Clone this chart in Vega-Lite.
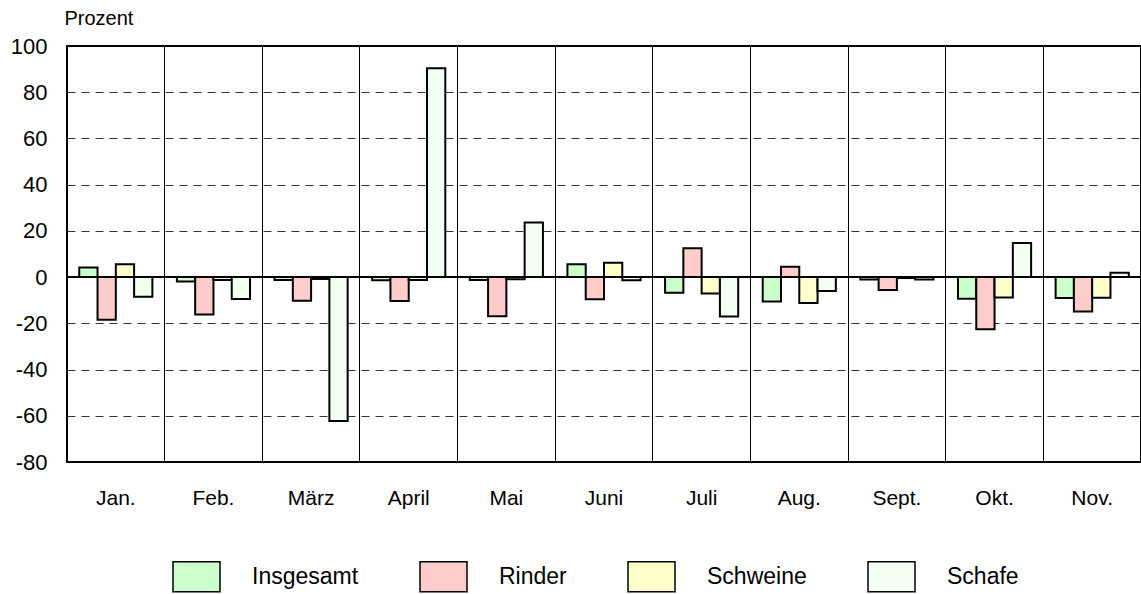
{
  "$schema": "https://vega.github.io/schema/vega-lite/v6.json",
  "width": 1074,
  "height": 416,
  "autosize": {"type": "none"},
  "padding": {"left": 67, "top": 46, "right": 0, "bottom": 132},
  "background": "white",
  "config": {
    "font": "Liberation Sans",
    "view": {"stroke": "black", "strokeWidth": 2}
  },
  "data": {
    "values": [
      {"monat": "Jan.", "art": "Insgesamt", "wert": 4.2},
      {"monat": "Jan.", "art": "Rinder", "wert": -18.4},
      {"monat": "Jan.", "art": "Schweine", "wert": 5.6},
      {"monat": "Jan.", "art": "Schafe", "wert": -8.5},
      {"monat": "Feb.", "art": "Insgesamt", "wert": -1.9},
      {"monat": "Feb.", "art": "Rinder", "wert": -16.2},
      {"monat": "Feb.", "art": "Schweine", "wert": -1.2},
      {"monat": "Feb.", "art": "Schafe", "wert": -9.5},
      {"monat": "März", "art": "Insgesamt", "wert": -1.3},
      {"monat": "März", "art": "Rinder", "wert": -10.2},
      {"monat": "März", "art": "Schweine", "wert": -0.8},
      {"monat": "März", "art": "Schafe", "wert": -62.3},
      {"monat": "April", "art": "Insgesamt", "wert": -1.4},
      {"monat": "April", "art": "Rinder", "wert": -10.3},
      {"monat": "April", "art": "Schweine", "wert": -1.3},
      {"monat": "April", "art": "Schafe", "wert": 90.4},
      {"monat": "Mai", "art": "Insgesamt", "wert": -1.3},
      {"monat": "Mai", "art": "Rinder", "wert": -16.9},
      {"monat": "Mai", "art": "Schweine", "wert": -0.9},
      {"monat": "Mai", "art": "Schafe", "wert": 23.6},
      {"monat": "Juni", "art": "Insgesamt", "wert": 5.6},
      {"monat": "Juni", "art": "Rinder", "wert": -9.6},
      {"monat": "Juni", "art": "Schweine", "wert": 6.2},
      {"monat": "Juni", "art": "Schafe", "wert": -1.4},
      {"monat": "Juli", "art": "Insgesamt", "wert": -6.8},
      {"monat": "Juli", "art": "Rinder", "wert": 12.5},
      {"monat": "Juli", "art": "Schweine", "wert": -7.1},
      {"monat": "Juli", "art": "Schafe", "wert": -17.0},
      {"monat": "Aug.", "art": "Insgesamt", "wert": -10.5},
      {"monat": "Aug.", "art": "Rinder", "wert": 4.5},
      {"monat": "Aug.", "art": "Schweine", "wert": -11.2},
      {"monat": "Aug.", "art": "Schafe", "wert": -6.0},
      {"monat": "Sept.", "art": "Insgesamt", "wert": -1.0},
      {"monat": "Sept.", "art": "Rinder", "wert": -5.6},
      {"monat": "Sept.", "art": "Schweine", "wert": -0.4},
      {"monat": "Sept.", "art": "Schafe", "wert": -1.0},
      {"monat": "Okt.", "art": "Insgesamt", "wert": -9.4},
      {"monat": "Okt.", "art": "Rinder", "wert": -22.6},
      {"monat": "Okt.", "art": "Schweine", "wert": -8.8},
      {"monat": "Okt.", "art": "Schafe", "wert": 14.8},
      {"monat": "Nov.", "art": "Insgesamt", "wert": -9.0},
      {"monat": "Nov.", "art": "Rinder", "wert": -14.9},
      {"monat": "Nov.", "art": "Schweine", "wert": -8.9},
      {"monat": "Nov.", "art": "Schafe", "wert": 1.9}
    ]
  },
  "layer": [
    {
      "mark": {"type": "bar", "stroke": "black", "strokeWidth": 2, "opacity": 1},
      "encoding": {
        "x": {
          "field": "monat",
          "type": "nominal",
          "sort": null,
          "scale": {"paddingInner": 0, "paddingOuter": 0},
          "axis": {
            "title": null,
            "labelAngle": 0,
            "labelFontSize": 21,
            "labelColor": "black",
            "labelBaseline": "alphabetic",
            "labelPadding": 42,
            "ticks": false,
            "domain": false,
            "grid": true,
            "bandPosition": 0,
            "gridColor": "black",
            "gridWidth": 1,
            "gridOpacity": 1
          }
        },
        "xOffset": {
          "field": "art",
          "type": "nominal",
          "sort": ["Insgesamt", "Rinder", "Schweine", "Schafe"],
          "scale": {"paddingInner": 0, "paddingOuter": 0.67}
        },
        "y": {
          "field": "wert",
          "type": "quantitative",
          "scale": {"domain": [-80, 100], "nice": false, "zero": false},
          "axis": {
            "values": [-80, -60, -40, -20, 0, 20, 40, 60, 80, 100],
            "labelExpr": "replace(datum.label, '\u2212', '-')",
            "title": "Prozent",
            "titleAngle": 0,
            "titleAlign": "left",
            "titleBaseline": "alphabetic",
            "titleX": -3,
            "titleY": -22,
            "titleFontSize": 20,
            "titleFontWeight": "normal",
            "titleColor": "black",
            "labelFontSize": 22,
            "labelColor": "black",
            "labelPadding": 20,
            "ticks": false,
            "domain": false,
            "grid": true,
            "gridColor": "black",
            "gridWidth": 1,
            "gridDash": [8, 6],
            "gridOpacity": 0.8
          }
        },
        "fill": {
          "field": "art",
          "type": "nominal",
          "sort": ["Insgesamt", "Rinder", "Schweine", "Schafe"],
          "scale": {
            "domain": ["Insgesamt", "Rinder", "Schweine", "Schafe"],
            "range": ["#ccffcc", "#ffcccc", "#ffffcc", "#f3fff3"]
          },
          "legend": {
            "title": null,
            "orient": "none",
            "legendX": 105,
            "legendY": 506,
            "direction": "horizontal",
            "columns": 4,
            "columnPadding": 58,
            "symbolType": "M-1,-0.64L1,-0.64L1,0.64L-1,0.64Z",
            "symbolSize": 2209,
            "symbolStrokeColor": "black",
            "symbolStrokeWidth": 1.5,
            "symbolOpacity": 1,
            "labelFontSize": 23,
            "labelColor": "black",
            "labelOffset": 31,
            "padding": 0
          }
        }
      }
    },
    {
      "data": {"values": [{"y": 0}]},
      "mark": {"type": "rule", "color": "black", "strokeWidth": 2},
      "encoding": {"y": {"field": "y", "type": "quantitative"}}
    }
  ]
}
